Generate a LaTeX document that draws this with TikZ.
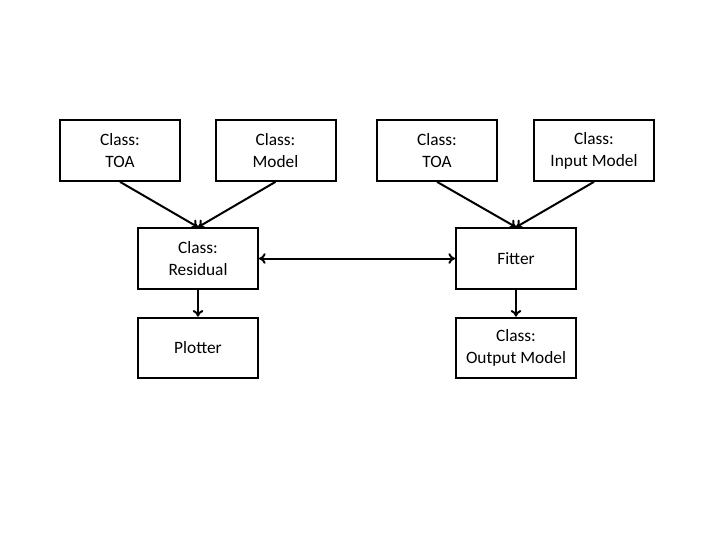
\documentclass[tikz,border=0pt]{standalone}
\usepackage{fontspec}
\setmainfont{Carlito}
\usetikzlibrary{arrows.meta}
\begin{document}
\begin{tikzpicture}[x=0.75pt,y=-0.75pt,
  box/.style={draw=black,line width=1.5pt,fill=white,minimum width=90pt,minimum height=45.5pt,
    inner sep=0pt,align=center,font=\fontsize{13}{16.5}\selectfont},
  link/.style={line width=1.5pt,-{To[length=5pt,width=8pt]}},
  biglink/.style={line width=1.5pt,{To[length=5pt,width=8pt]}-{To[length=5pt,width=8pt]}}]
\useasboundingbox (0,0) rectangle (720,540);
\node[box] (toa1) at (120,150.5) {Class:\\TOA};
\node[box] (model) at (275.5,150.5) {Class:\\Model};
\node[box] (toa2) at (437,150.5) {Class:\\TOA};
\node[box] (inmodel) at (594,150.5) {Class:\\Input Model};
\node[box] (resid) at (198,258.5) {Class:\\Residual};
\node[box] (fitter) at (516,258.5) {Fitter};
\node[box] (plotter) at (198,348) {Plotter};
\node[box] (outmodel) at (516,348) {Class:\\Output Model};
\draw[link] (toa1.south) -- (resid.north);
\draw[link] (model.south) -- (resid.north);
\draw[link] (toa2.south) -- (fitter.north);
\draw[link] (inmodel.south) -- (fitter.north);
\draw[biglink] (resid.east) -- (fitter.west);
\draw[link] (resid.south) -- (plotter.north);
\draw[link] (fitter.south) -- (outmodel.north);
\end{tikzpicture}
\end{document}
